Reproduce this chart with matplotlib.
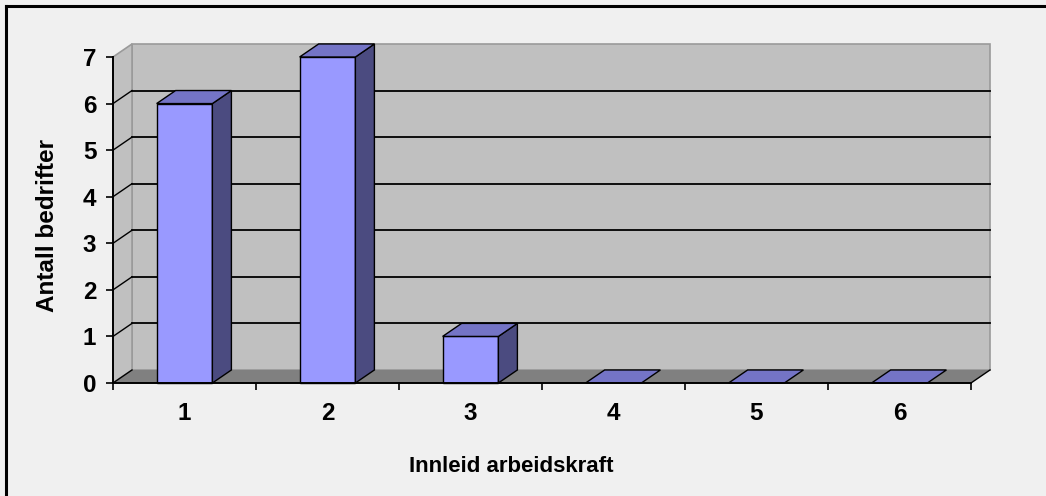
import matplotlib
matplotlib.use('Agg')
import matplotlib.pyplot as plt
from matplotlib.patches import Polygon
from matplotlib.lines import Line2D

# 데이터
kategorier = ['1', '2', '3', '4', '5', '6']
antall = [6, 7, 1, 0, 0, 0]
y_ticks = [0, 1, 2, 3, 4, 5, 6, 7]
x_tittel = 'Innleid arbeidskraft'
y_tittel = 'Antall bedrifter'

plt.rcParams['font.family'] = ['Liberation Sans', 'DejaVu Sans']

# 3D-effekt (dybde i dataenheter)
dx = 0.133
dy = 0.28
bredde = 0.39
ymax = 7

fig = plt.figure(figsize=(10.46, 4.96), dpi=100, facecolor='#f0f0f0')
ax = fig.add_axes([113/1046, 113/496, 858/1046, 326/496])
ax.set_xlim(0.5, 6.5)
ax.set_ylim(0, ymax)
ax.patch.set_visible(False)
for s in ['top', 'right']:
    ax.spines[s].set_visible(False)
for s in ['left', 'bottom']:
    ax.spines[s].set_linewidth(1.4)
    ax.spines[s].set_zorder(6)

n = len(kategorier)
x_lo, x_hi = 0.5, n + 0.5

# bakvegg, sidevegg og gulv
bak = Polygon([(x_lo+dx, dy), (x_hi+dx, dy), (x_hi+dx, ymax+dy), (x_lo+dx, ymax+dy)],
              closed=True, facecolor='#c0c0c0', edgecolor='#9a9a9a', lw=1.2, clip_on=False, zorder=1)
side = Polygon([(x_lo, 0), (x_lo+dx, dy), (x_lo+dx, ymax+dy), (x_lo, ymax)],
               closed=True, facecolor='#c0c0c0', edgecolor='#9a9a9a', lw=1.2, clip_on=False, zorder=1)
gulv = Polygon([(x_lo, 0), (x_hi, 0), (x_hi+dx, dy), (x_lo+dx, dy)],
               closed=True, facecolor='#808080', edgecolor='none', clip_on=False, zorder=1.5)
ax.add_patch(bak)
ax.add_patch(side)
ax.add_patch(gulv)

# rutenett
for k in y_ticks[1:-1]:
    ax.add_line(Line2D([x_lo+dx, x_hi+dx], [k+dy, k+dy], color='black', lw=1.3, clip_on=False, zorder=2))
for k in y_ticks[:-1]:
    ax.add_line(Line2D([x_lo, x_lo+dx], [k, k+dy], color='black', lw=1.0, clip_on=False, zorder=2))
ax.add_line(Line2D([x_hi, x_hi+dx], [0, dy], color='black', lw=1.0, clip_on=False, zorder=2))

# søyler
for i, v in enumerate(antall):
    c = i + 1
    x0, x1 = c - bredde/2, c + bredde/2
    kw = dict(closed=True, edgecolor='black', lw=1.0, clip_on=False, zorder=4, joinstyle='miter')
    if v > 0:
        ax.add_patch(Polygon([(x0, 0), (x1, 0), (x1, v), (x0, v)], facecolor='#9999ff', **kw))
        ax.add_patch(Polygon([(x1, 0), (x1+dx, dy), (x1+dx, v+dy), (x1, v)], facecolor='#4b4b80', **kw))
    ax.add_patch(Polygon([(x0, v), (x1, v), (x1+dx, v+dy), (x0+dx, v+dy)], facecolor='#7474c6', **kw))

# akser
ax.set_yticks(y_ticks)
ax.set_yticklabels([str(t) for t in y_ticks])
ax.set_xticks([i + 0.5 for i in range(n + 1)])
ax.set_xticklabels([])
ax.set_xticks(range(1, n + 1), minor=True)
ax.set_xticklabels(kategorier, minor=True)
ax.tick_params(axis='y', length=5, width=1.2, pad=7, labelsize=17.5, direction='out')
ax.tick_params(axis='x', which='major', length=5, width=1.2, direction='out')
ax.tick_params(axis='x', which='minor', length=0, pad=14, labelsize=17.5)
for lab in ax.get_yticklabels() + ax.get_xticklabels(minor=True):
    lab.set_fontweight('bold')

fig.text(511/1046, 1 - 466/496, x_tittel, ha='center', va='center', fontsize=16, fontweight='bold')
fig.text(48/1046, 1 - 226/496, y_tittel, ha='center', va='center', rotation=90, fontsize=17.5, fontweight='bold')

# ramme
fig.add_artist(Line2D([6/1046, 6/1046], [0, 1 - 6/496], color='black', lw=2.2))
fig.add_artist(Line2D([6/1046, 1], [1 - 6/496, 1 - 6/496], color='black', lw=2.2))

fig.savefig('out.png', dpi=100, facecolor=fig.get_facecolor())
